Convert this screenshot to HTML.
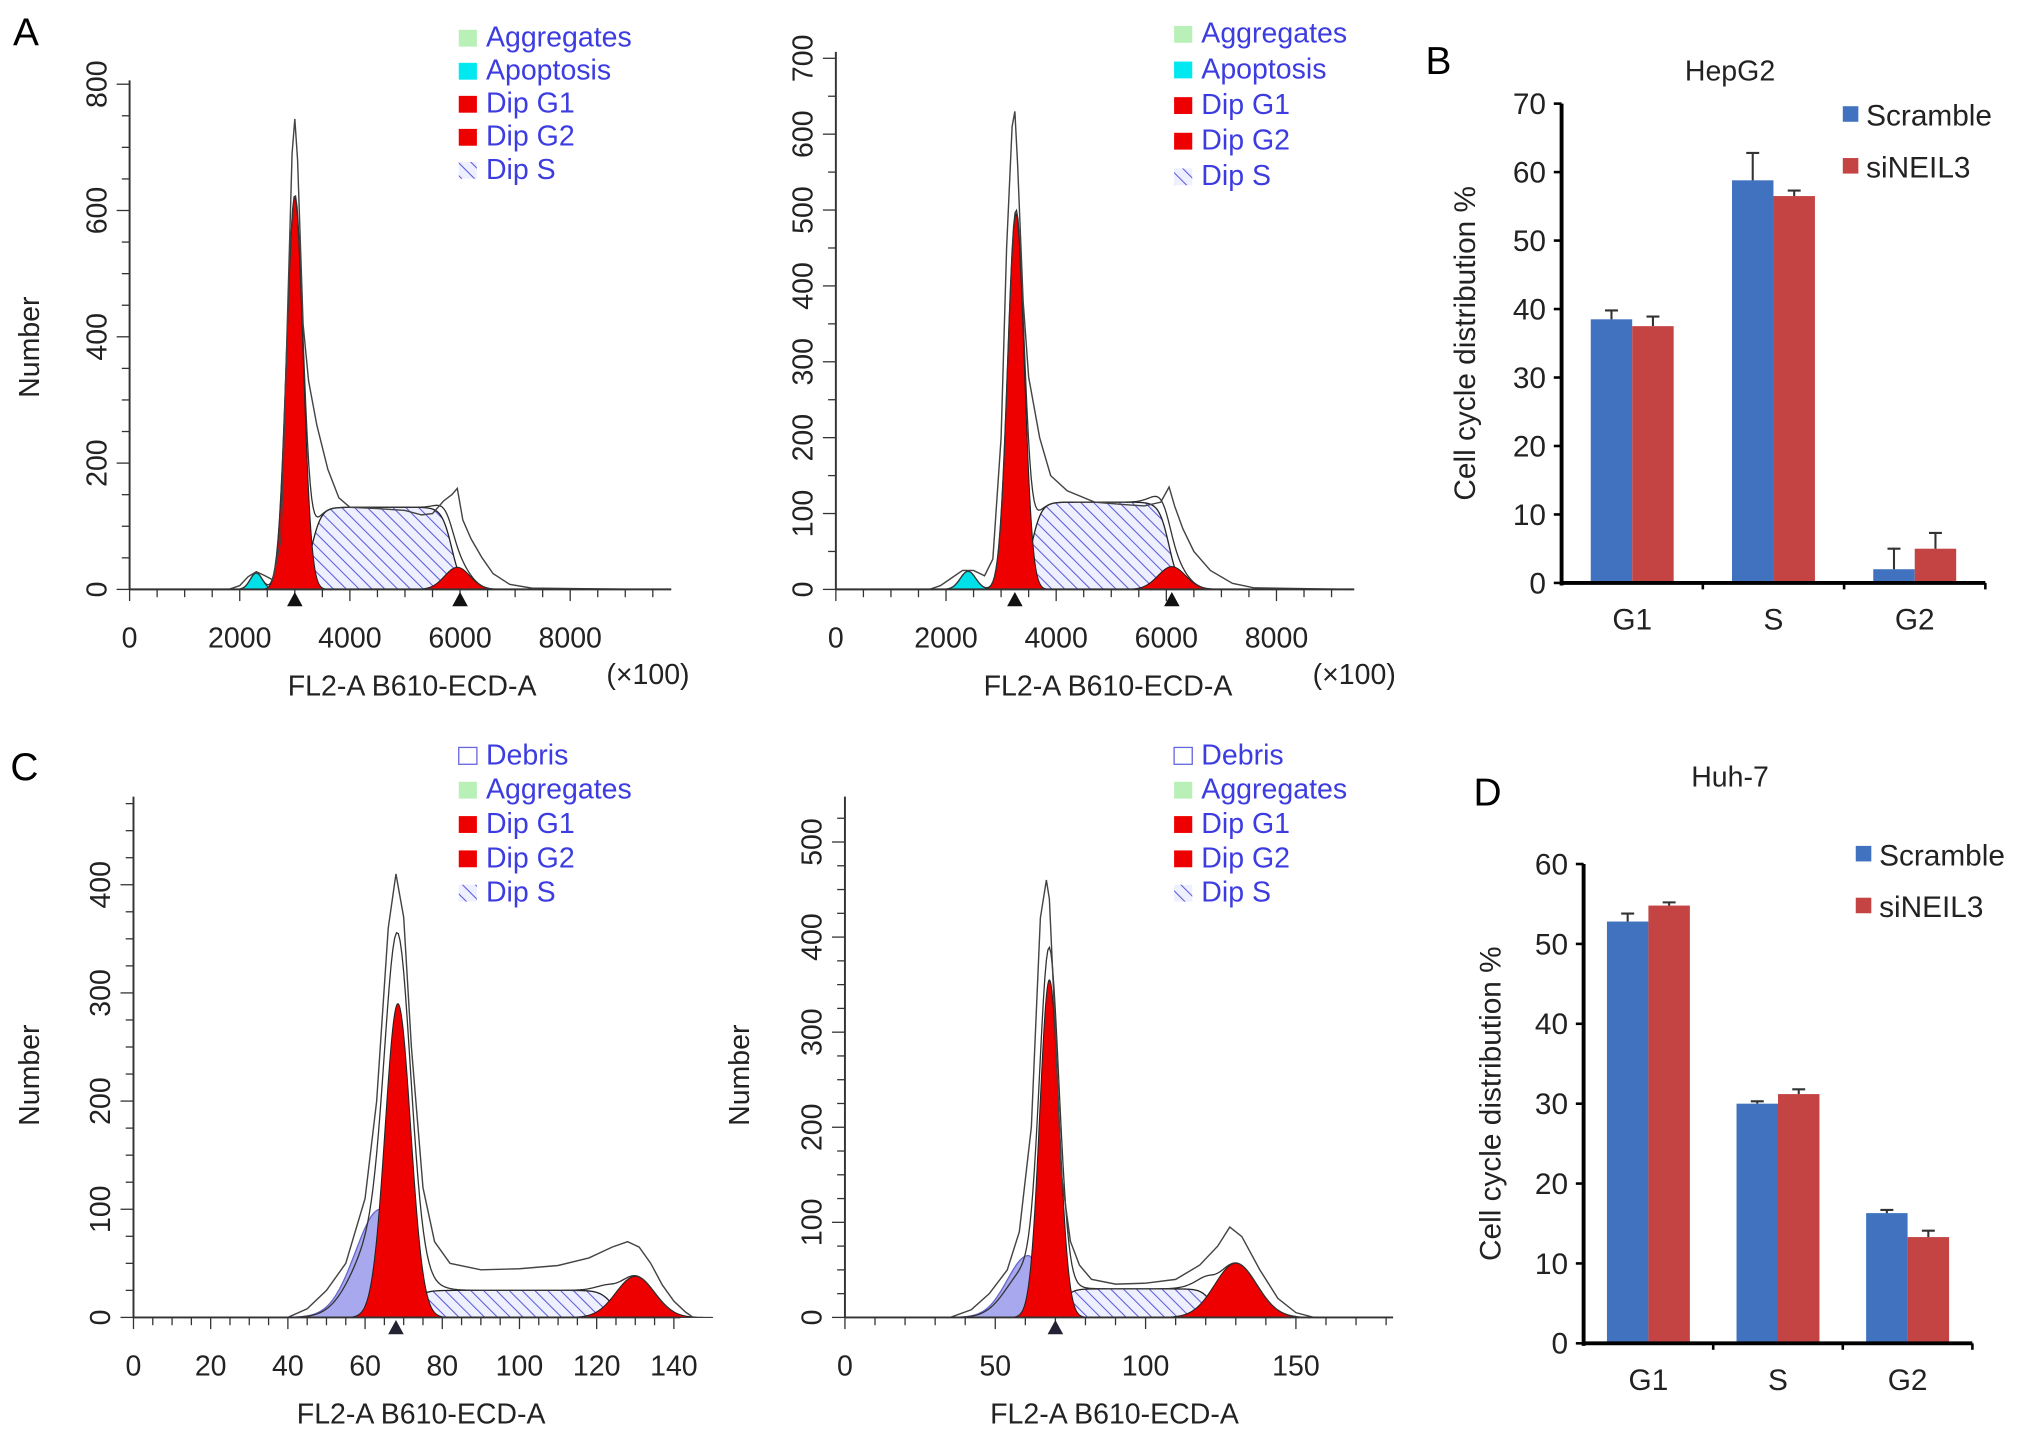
<!DOCTYPE html>
<html><head><meta charset="utf-8"><style>
html,body{margin:0;padding:0;background:#fff}
svg{display:block}
text{font-family:"Liberation Sans",Arial,sans-serif}
</style></head><body>
<svg id="fig" xmlns="http://www.w3.org/2000/svg" width="2032" height="1434" viewBox="0 0 1568 1107" preserveAspectRatio="none">
<defs>
<pattern id="hatch" patternUnits="userSpaceOnUse" width="7" height="7" patternTransform="rotate(-45)">
<rect width="7" height="7" fill="#eef0ff"/><line x1="0" y1="0" x2="0" y2="7" stroke="#5a5ad8" stroke-width="1.6"/></pattern>
</defs>
<text x="10" y="35" font-size="30">A</text>
<text x="1100" y="57" font-size="30">B</text>
<text x="8" y="602" font-size="30">C</text>
<text x="1137" y="622" font-size="30">D</text>
</svg>
<script>
// ---------- Bar chart data ----------
const barCategories = ["G1","S","G2"];
const hepScramble = [38.5, 58.8, 2.0];
const hepSiNEIL3 = [37.5, 56.5, 5.0];
const hepScrambleErr = [1.3, 4.0, 3.0];
const hepSiNEIL3Err = [1.4, 0.8, 2.3];
const hepTicks = [0,10,20,30,40,50,60,70];
const huhScramble = [52.8, 30.0, 16.3];
const huhSiNEIL3 = [54.8, 31.2, 13.3];
const huhScrambleErr = [1.0, 0.3, 0.4];
const huhSiNEIL3Err = [0.4, 0.6, 0.8];
const huhTicks = [0,10,20,30,40,50,60];
// ---------- Histogram data (envelope x, count) ----------
const a1EnvX = [0,1800,2000,2150,2300,2450,2600,2750,2850,2950,3000,3050,3150,3250,3400,3600,3800,4000,4500,5000,5300,5500,5700,5850,5950,6050,6200,6400,6600,6900,7300,9400];
const a1EnvY = [0,0,6,20,28,22,15,80,380,690,745,680,420,330,260,190,145,130,128,125,118,120,140,150,160,110,80,50,25,8,2,0];
const a2EnvX = [0,1700,1900,2100,2300,2500,2700,2850,3000,3100,3200,3250,3300,3400,3500,3700,3900,4200,4700,5200,5600,5900,6050,6150,6300,6500,6800,7200,7600,9400];
const a2EnvY = [0,0,5,15,25,25,18,40,200,450,610,630,560,380,280,200,150,130,115,112,110,115,135,110,80,50,25,8,2,0];
const c1EnvX = [0,40,45,50,55,60,63,66,68,70,72,75,78,82,90,100,110,118,124,128,131,134,137,140,143,145];
const c1EnvY = [0,0,8,25,50,110,200,360,410,370,250,120,70,50,44,45,48,55,65,70,65,50,30,15,5,0];
const c2EnvX = [0,35,42,48,54,58,62,65,67,68,70,72,75,78,82,90,100,110,118,124,128,132,138,144,150,156,180];
const c2EnvY = [0,0,8,25,50,90,200,420,460,440,300,150,80,55,40,35,36,40,55,75,95,85,50,20,5,0,0];
// fitted components: [center, height, sd]
const a1G1 = [3000, 620, 150], a1G2 = [5950, 35, 230], a1S = [3300, 5850, 130], a1Ap = [2300, 26, 110];
const a2G1 = [3270, 495, 150], a2G2 = [6100, 30, 250], a2S = [3550, 6050, 115], a2Ap = [2400, 24, 140];
const c1G1 = [68.5, 290, 3.3], c1G2 = [130, 38, 5], c1S = [72, 124, 25], c1Deb = [64, 100, 6.5];
const c2G1 = [68, 355, 3.2], c2G2 = [130, 57, 7], c2S = [72, 122, 30], c2Deb = [61, 65, 7];
const aXTicks = [0,2000,4000,6000,8000];
const a1YTicks = [0,200,400,600,800];
const a2YTicks = [0,100,200,300,400,500,600,700];
const c1XTicks = [0,20,40,60,80,100,120,140];
const c1YTicks = [0,100,200,300,400];
const c2XTicks = [0,50,100,150];
const c2YTicks = [0,100,200,300,400,500];

const svg = document.getElementById('fig');
const NS = 'http://www.w3.org/2000/svg';
function mk(tag, attrs, parent){const e=document.createElementNS(NS,tag);for(const k in attrs)e.setAttribute(k,attrs[k]);(parent||svg).appendChild(e);return e;}
function txt(x,y,s,size,attrs,parent){const t=mk('text',Object.assign({x:x,y:y,'font-size':size},attrs||{}),parent);t.textContent=s;return t;}

function histogram(o){
  const g=mk('g',{});
  
  
  const X=v=>o.x0+(v-0)*(o.x1-o.x0)/o.xmax;
  const Y=c=>o.y0-c*(o.y0-o.y1)/o.ymax;
  const gauss=(p,v)=>p[1]*Math.exp(-0.5*Math.pow((v-p[0])/p[2],2));
  const sig=z=>1/(1+Math.exp(-z));
  const w=o.xmax/140;
  const sFn=v=>o.S[2]*sig((v-o.S[0])/(w*1.6))*sig((o.S[1]-v)/(w*1.6));
  const N=300;
  function curve(f,lo,hi){let d='M'+X(lo)+','+Y(0);for(let i=0;i<=N;i++){const v=lo+(hi-lo)*i/N;d+=' L'+X(v).toFixed(2)+','+Y(f(v)).toFixed(2);}return d+' L'+X(hi)+','+Y(0)+' Z';}
  const s=mk('path',{d:curve(sFn,o.S[0]-8*w,o.S[1]+8*w),fill:'url(#hatch)',stroke:'#222','stroke-width':1},g);
  
  if(o.deb){const db=mk('path',{d:curve(v=>gauss(o.deb,v)*(v<o.deb[0]?1:Math.exp(-Math.pow((v-o.deb[0])/(o.deb[2]*0.6),2)/2)),o.deb[0]-4*o.deb[2],o.deb[0]+3*o.deb[2]),fill:'#a8a8ee',stroke:'#6666cc','stroke-width':1},g);
    }
  if(o.ap){const ap=mk('path',{d:curve(v=>gauss(o.ap,v),o.ap[0]-3.5*o.ap[2],o.ap[0]+3.5*o.ap[2]),fill:'#00e0e8',stroke:'#333','stroke-width':0.8},g);
    }
  const g1=mk('path',{d:curve(v=>gauss(o.G1,v),o.G1[0]-4*o.G1[2],o.G1[0]+4*o.G1[2]),fill:'#ee0000',stroke:'#222','stroke-width':0.8},g);
  
  const g2=mk('path',{d:curve(v=>gauss(o.G2,v),o.G2[0]-4*o.G2[2],o.G2[0]+4*o.G2[2]),fill:'#ee0000',stroke:'#222','stroke-width':0.8},g);
  
  let d='';for(let i=0;i<=N;i++){const v=o.xmax*i/N;let c=gauss(o.G1,v)+gauss(o.G2,v)+sFn(v)+(o.ap?gauss(o.ap,v):0)+(o.deb?gauss(o.deb,v)*0.8:0);d+=(i?' L':'M')+X(v).toFixed(2)+','+Y(c).toFixed(2);}
  const fit=mk('path',{d:d,fill:'none',stroke:'#333','stroke-width':1},g);
  
  let e='';o.ex.forEach((v,i)=>{e+=(i?' L':'M')+X(v).toFixed(2)+','+Y(o.ey[i]).toFixed(2);});
  const env=mk('path',{d:e,fill:'none',stroke:'#444','stroke-width':1.1},g);
  
  mk('line',{x1:o.x0,y1:o.y0,x2:o.xend,y2:o.y0,stroke:'#333','stroke-width':1.5},g);
  mk('line',{x1:o.x0,y1:o.y0,x2:o.x0,y2:o.ytop,stroke:'#333','stroke-width':1.5},g);
  const xs=o.xt[1]-o.xt[0];
  for(let v=0;X(v)<=o.xend+0.5;v+=xs/o.xminor){const major=Math.abs(v/xs-Math.round(v/xs))<1e-6;mk('line',{x1:X(v),y1:o.y0,x2:X(v),y2:o.y0+(major?9:6),stroke:'#333','stroke-width':1},g);}
  o.xt.forEach(v=>{const t=txt(X(v),o.y0+45,String(v),22,{'text-anchor':'middle',fill:'#222'},g);});
  const ys=o.yt[1]-o.yt[0];
  for(let c=0;Y(c)>=o.ytop-0.5;c+=ys/o.yminor){const major=Math.abs(c/ys-Math.round(c/ys))<1e-6;mk('line',{x1:o.x0,y1:Y(c),x2:o.x0-(major?10:6),y2:Y(c),stroke:'#333','stroke-width':1},g);}
  o.yt.forEach(c=>{const t=txt(o.x0-18,Y(c),String(c),22,{'text-anchor':'middle',fill:'#222',transform:'rotate(-90 '+(o.x0-18)+' '+Y(c)+')'},g);});
  (o.markers||[]).forEach(v=>{const m=mk('path',{d:'M'+(X(v)-6)+','+(o.y0+13)+' L'+(X(v)+6)+','+(o.y0+13)+' L'+X(v)+','+(o.y0+2)+' Z',fill:o.mcol||'#111'},g);});
  const xl=txt(o.xlabelX,o.y0+82,'FL2-A B610-ECD-A',22,{'text-anchor':'middle',fill:'#222'},g);
  if(o.unit){const u=txt(o.unit[0],o.unit[1],'(×100)',22,{'text-anchor':'middle',fill:'#222'},g);}
  if(o.ylabel){const yl=txt(o.ylabel[0],o.ylabel[1],'Number',22,{'text-anchor':'middle',fill:'#222',transform:'rotate(-90 '+o.ylabel[0]+' '+o.ylabel[1]+')'},g);}
  const lg=mk('g',{},g);
  
  o.legend.forEach((it,i)=>{const y=o.lgY+i*o.lgStep;
    const fill={green:'#b8f0b8',cyan:'#00e8f0',red:'#ee0000',hatch:'url(#hatch)',debris:'#fff'}[it[1]];
    mk('rect',{x:o.lgX,y:y-13,width:14,height:13,fill:fill,stroke:it[1]==='debris'?'#6666dd':'none','stroke-width':1},lg);
    const t=txt(o.lgX+21,y,it[0],22,{fill:'#3c3ce0'},lg);});
}

histogram({name:'histogram-a-left',x0:100,x1:440,xmax:8000,xend:518,y0:455,y1:65,ymax:800,ytop:62,xt:aXTicks,yt:a1YTicks,xminor:4,yminor:4,
  G1:a1G1,G2:a1G2,S:a1S,ap:a1Ap,ex:a1EnvX,ey:a1EnvY,markers:[3000,6000],xlabelX:318,unit:[500,528],ylabel:[30,268],
  legend:[['Aggregates','green'],['Apoptosis','cyan'],['Dip G1','red'],['Dip G2','red'],['Dip S','hatch']],lgX:354,lgY:36,lgStep:25.5});
histogram({name:'histogram-a-right',x0:645,x1:985,xmax:8000,xend:1045,y0:455,y1:45,ymax:700,ytop:40,xt:aXTicks,yt:a2YTicks,xminor:4,yminor:2,
  G1:a2G1,G2:a2G2,S:a2S,ap:a2Ap,ex:a2EnvX,ey:a2EnvY,markers:[3250,6100],xlabelX:855,unit:[1045,528],
  legend:[['Aggregates','green'],['Apoptosis','cyan'],['Dip G1','red'],['Dip G2','red'],['Dip S','hatch']],lgX:906,lgY:33,lgStep:27.5});
histogram({name:'histogram-c-left',x0:103,x1:520,xmax:140,xend:525,y0:1017,y1:683,ymax:400,ytop:615,xt:c1XTicks,yt:c1YTicks,xminor:4,yminor:4,
  G1:c1G1,G2:c1G2,S:c1S,deb:c1Deb,ex:c1EnvX,ey:c1EnvY,markers:[68],mcol:'#223',xlabelX:325,ylabel:[30,830],
  legend:[['Debris','debris'],['Aggregates','green'],['Dip G1','red'],['Dip G2','red'],['Dip S','hatch']],lgX:354,lgY:590,lgStep:26.5});
histogram({name:'histogram-c-right',x0:652,x1:1000,xmax:150,xend:1075,y0:1017,y1:650,ymax:500,ytop:615,xt:c2XTicks,yt:c2YTicks,xminor:5,yminor:4,
  G1:c2G1,G2:c2G2,S:c2S,deb:c2Deb,ex:c2EnvX,ey:c2EnvY,markers:[70],mcol:'#223',xlabelX:860,ylabel:[578,830],
  legend:[['Debris','debris'],['Aggregates','green'],['Dip G1','red'],['Dip G2','red'],['Dip S','hatch']],lgX:906,lgY:590,lgStep:26.5});

function bars(o){
  const g=mk('g',{});
  
  
  const tmax=o.ticks[o.ticks.length-1];
  const Y=v=>o.y0-v*(o.y0-o.ytop)/tmax;
  const slot=(o.xend-o.x0)/barCategories.length;
  const bw=o.bw;
  barCategories.forEach((c,i)=>{
    const cx=o.x0+slot*(i+0.5);
    [[o.a,o.ae,'#4072c0'],[o.b,o.be,'#c44444']].forEach((s,k)=>{
      const x=cx-bw+k*bw, v=s[0][i], e=s[1][i];
      const r=mk('rect',{x:x,y:Y(v),width:bw,height:o.y0-Y(v),fill:s[2]},g);
      
      
      const ex=x+bw/2;
      const eb=mk('path',{d:'M'+ex+','+Y(v)+' L'+ex+','+Y(v+e)+' M'+(ex-5)+','+Y(v+e)+' L'+(ex+5)+','+Y(v+e),stroke:'#333','stroke-width':1.6,fill:'none'},g);
      
    });
    const t=txt(cx,o.y0+36,c,23,{'text-anchor':'middle',fill:'#222'},g);
    
    if(i>0) mk('line',{x1:o.x0+slot*i,y1:o.y0,x2:o.x0+slot*i,y2:o.y0+5,stroke:'#000','stroke-width':2},g);
  });
  mk('line',{x1:o.x0,y1:o.y0,x2:o.xend,y2:o.y0,stroke:'#000','stroke-width':3},g);
  mk('line',{x1:o.xend,y1:o.y0,x2:o.xend,y2:o.y0+5,stroke:'#000','stroke-width':2},g);
  mk('line',{x1:o.x0,y1:o.y0+2,x2:o.x0,y2:o.ytop,stroke:'#000','stroke-width':3},g);
  o.ticks.forEach(v=>{mk('line',{x1:o.x0-6,y1:Y(v),x2:o.x0,y2:Y(v),stroke:'#000','stroke-width':2},g);
    const t=txt(o.x0-12,Y(v)+8,String(v),23,{'text-anchor':'end',fill:'#222'},g);});
  const yl=txt(o.ylab[0],o.ylab[1],'Cell cycle distribution %',23,{'text-anchor':'middle',fill:'#222',transform:'rotate(-90 '+o.ylab[0]+' '+o.ylab[1]+')'},g);
  
  const tt=txt(o.title[0],o.title[1],o.title[2],22,{'text-anchor':'middle',fill:'#222'},g);
  
  [['Scramble','#4072c0'],['siNEIL3','#c44444']].forEach((l,i)=>{const y=o.lg[1]+i*o.lg[2];
    mk('rect',{x:o.lg[0],y:y-15,width:12,height:12,fill:l[1]},g);
    const t=txt(o.lg[0]+18,y,l[0],23,{fill:'#222'},g);});
}
bars({name:'bar-chart-hepg2',x0:1205,xend:1532,y0:450,ytop:80,bw:32,ticks:hepTicks,
  title:[1335,62,'HepG2'],lg:[1422,97,40],ylab:[1138,265],
  a:hepScramble,ae:hepScrambleErr,b:hepSiNEIL3,be:hepSiNEIL3Err});
bars({name:'bar-chart-huh7',x0:1222,xend:1522,y0:1037,ytop:667,bw:32,ticks:huhTicks,
  title:[1335,607,'Huh-7'],lg:[1432,668,40],ylab:[1158,852],
  a:huhScramble,ae:huhScrambleErr,b:huhSiNEIL3,be:huhSiNEIL3Err});
</script>
</body></html>
